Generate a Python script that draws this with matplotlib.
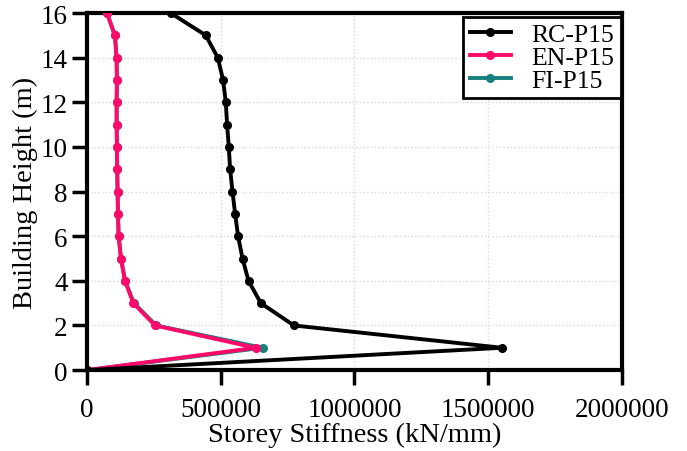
import numpy as np
import matplotlib
matplotlib.use('Agg')
import matplotlib.pyplot as plt

plt.rcParams['font.family'] = ['Liberation Serif', 'DejaVu Serif']
plt.rcParams['mathtext.fontset'] = 'stix'

# storey levels (m)
height = list(range(0, 17))

# storey stiffness (kN/mm)
rc_p15 = [0, 1551700, 773300, 649600, 603400, 581000, 564500, 553300, 543500,
          534600, 529600, 523300, 518400, 508300, 488400, 443400, 312200]
en_p15 = [0, 629600, 253500, 172400, 141000, 126000, 117300, 115000, 113500,
          112000, 111000, 110000, 110000, 111000, 109800, 103500, 73500]
fi_p15 = [0, 655900, 258000, 175000, 142000, 126500, 117500, 115000, 113500,
          112000, 111000, 110000, 110000, 111000, 109800, 103500, 73500]

fig = plt.figure(figsize=(6.87, 4.52), dpi=100)
ax = fig.add_axes([0.127, 0.179, 0.778, 0.79])

ax.plot(fi_p15, height, color='#17807e', lw=2.8, marker='o', ms=5.5, label='FI-P15', zorder=3)
ax.plot(en_p15, height, color='#ff0a6a', lw=2.8, marker='o', ms=5.5, label='EN-P15', zorder=4)
ax.plot(rc_p15, height, color='black', lw=2.8, marker='o', ms=5.5, label='RC-P15', zorder=5)

ax.set_xlim(0, 2000000)
ax.set_ylim(0, 16)
ax.set_xticks([0, 500000, 1000000, 1500000, 2000000])
ax.set_xticklabels(['0', '500000', '1000000', '1500000', '2000000'])
ax.set_yticks(range(0, 17, 2))

ax.grid(True, color='#d9d9d9', linestyle=':', linewidth=1)
ax.set_axisbelow(True)
for s in ax.spines.values():
    s.set_linewidth(3)
ax.tick_params(direction='out', length=11, width=2.5, labelsize=19.5, pad=3)
ax.tick_params(axis='x', pad=8.5)

ax.set_xlabel('Storey Stiffness (kN/mm)', fontsize=20.5, labelpad=0)
ax.set_ylabel('Building Height (m)', fontsize=20.5, labelpad=2)

h, l = ax.get_legend_handles_labels()
order = [2, 1, 0]
leg = ax.legend([h[i] for i in order], [l[i] for i in order], loc='upper right',
                fontsize=18.5, fancybox=False, framealpha=1, edgecolor='black',
                handlelength=1.6, handletextpad=0.8, borderpad=0.25, labelspacing=0.0,
                borderaxespad=0.0, bbox_to_anchor=(0.998, 0.99))
leg.get_frame().set_linewidth(2)

fig.savefig('out.png', dpi=100)
